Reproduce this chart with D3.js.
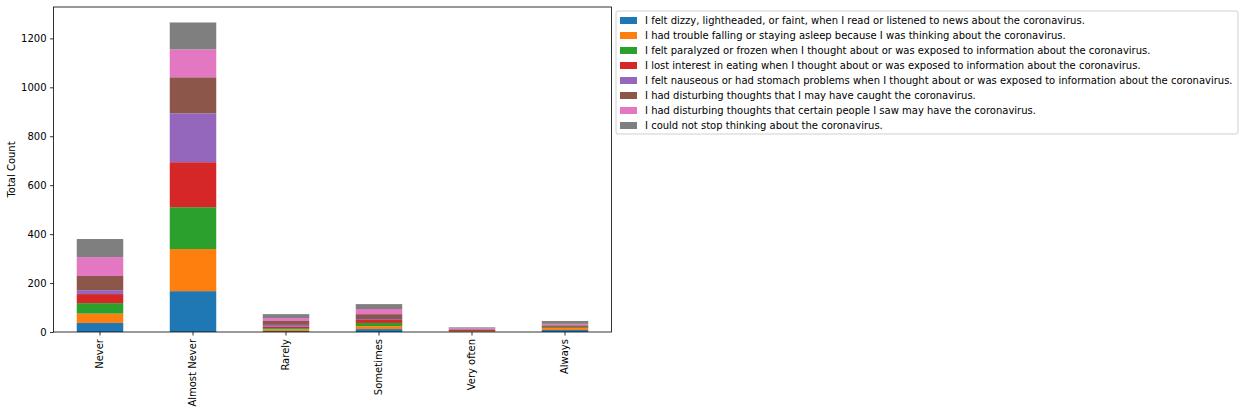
<!DOCTYPE html>
<html><head><meta charset="utf-8">
<script src="https://cdn.jsdelivr.net/npm/d3@7"></script>
<style>body{margin:0;background:#fff;} text{font-family:"DejaVu Sans",sans-serif;}</style>
</head><body>
<svg id="c" width="1244" height="414"></svg>
<script>
const categories = ["Never","Almost Never","Rarely","Sometimes","Very often","Always"];
const seriesNames = [
 "I felt dizzy, lightheaded, or faint, when I read or listened to news about the coronavirus.",
 "I had trouble falling or staying asleep because I was thinking about the coronavirus.",
 "I felt paralyzed or frozen when I thought about or was exposed to information about the coronavirus.",
 "I lost interest in eating when I thought about or was exposed to information about the coronavirus.",
 "I felt nauseous or had stomach problems when I thought about or was exposed to information about the coronavirus.",
 "I had disturbing thoughts that I may have caught the coronavirus.",
 "I had disturbing thoughts that certain people I saw may have the coronavirus.",
 "I could not stop thinking about the coronavirus."
];
const dizzy     = [37, 167, 4, 12, 1, 8];
const sleep     = [38, 172, 7, 12, 1, 8];
const paralyzed = [43, 171, 5, 13, 2, 4];
const eating    = [37, 184, 5, 12, 6, 4];
const nauseous  = [16, 200, 8, 4, 3, 2];
const caught    = [58, 147, 16, 20, 2, 3];
const people    = [77, 114, 12, 21, 3, 4];
const stopThink = [74, 110, 16, 20, 2, 12];
const yTicks = [0,200,400,600,800,1000,1200];
const colors = ["#1f77b4","#ff7f0e","#2ca02c","#d62728","#9467bd","#8c564b","#e377c2","#7f7f7f"];

const seriesVals = [dizzy,sleep,paralyzed,eating,nauseous,caught,people,stopThink];
const rows = categories.map((c,i)=>{const r={cat:c}; seriesNames.forEach((s,j)=>r[s]=seriesVals[j][i]); return r;});
const stack = d3.stack().keys(seriesNames)(rows);
const totals = rows.map(r=>d3.sum(seriesNames,s=>r[s]));

const L=53.5, R=611.5, T=7, B=332;
const svg = d3.select("#c");
const x = d3.scaleBand().domain(categories).range([L,R]).paddingInner(0.5).paddingOuter(0.25);
const y = d3.scaleLinear().domain([0, d3.max(totals)*1.05]).range([B,T]);

svg.append("g").selectAll("g").data(stack).join("g").attr("fill",(d,i)=>colors[i])
 .selectAll("rect").data(d=>d).join("rect")
 .attr("x",d=>x(d.data.cat)).attr("width",x.bandwidth())
 .attr("y",d=>y(d[1])).attr("height",d=>y(d[0])-y(d[1]));

// frame
svg.append("rect").attr("x",L).attr("y",T).attr("width",R-L).attr("height",B-T)
 .attr("fill","none").attr("stroke","#000").attr("stroke-width",0.8);

const ya = svg.append("g").attr("transform",`translate(${L},0)`)
 .call(d3.axisLeft(y).tickValues(yTicks).tickFormat(d3.format("d")).tickSize(3.5).tickPadding(3.5));
ya.select(".domain").remove();
ya.selectAll("text").attr("font-size",10).attr("fill","#000").style("font-family","DejaVu Sans");
ya.selectAll("line").attr("stroke","#000").attr("stroke-width",0.8);

const xa = svg.append("g").attr("transform",`translate(0,${B})`)
 .call(d3.axisBottom(x).tickSize(3.5).tickPadding(3.5));
xa.select(".domain").remove();
xa.selectAll("line").attr("stroke","#000").attr("stroke-width",0.8);
xa.selectAll("text").attr("font-size",10).attr("fill","#000").style("font-family","DejaVu Sans")
 .attr("transform","rotate(-90)").attr("text-anchor","end").attr("dy","0.32em").attr("x",-7).attr("y",0);

svg.append("text").attr("transform",`translate(15,${(T+B)/2}) rotate(-90)`)
 .attr("text-anchor","middle").attr("font-size",10).text("Total Count");

// legend
const lg = svg.append("g").attr("transform","translate(616,11)");
lg.append("rect").attr("x",0).attr("y",0).attr("width",622).attr("height",123).attr("rx",2)
 .attr("fill","#fff").attr("stroke","#d0d0d0").attr("stroke-width",1);
seriesNames.forEach((s,i)=>{
  const yy = 9.5 + i*15;
  lg.append("rect").attr("x",4).attr("y",yy-3.5).attr("width",17).attr("height",7).attr("fill",colors[i]);
  lg.append("text").attr("x",29).attr("y",yy).attr("dy","0.35em").attr("font-size",10).text(s);
});
</script>
</body></html>
